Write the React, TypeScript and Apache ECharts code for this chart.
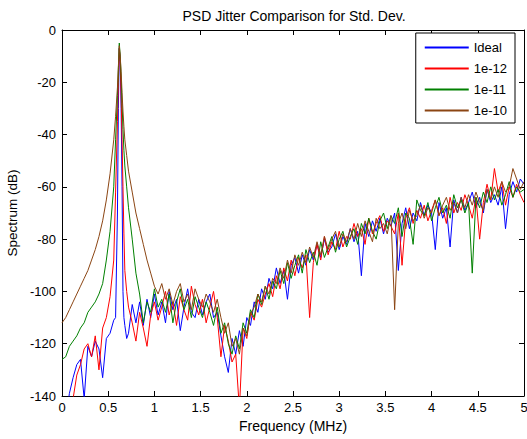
import React, { useEffect, useRef } from "react";
import * as echarts from "echarts";

// Frequency grid (MHz): coarse before the peak, fine around the peak, coarse after
const freqA = Array.from({ length: 15 }, (_, i) => +(i * 0.04).toFixed(2));
const freqPeak = [0.58, 0.6, 0.61, 0.62, 0.63, 0.64, 0.65, 0.66, 0.67, 0.68, 0.7];
const freqC = Array.from({ length: 108 }, (_, i) => +(0.72 + i * 0.04).toFixed(2));
const freq = [...freqA, ...freqPeak, ...freqC];

const seriesNames = ["Ideal", "1e-12", "1e-11", "1e-10"];
const seriesColors = ["#0000ff", "#ff0000", "#008000", "#8b4513"];

const ideal = [
  -152, -149, -139, -133, -128, -126, -141, -121, -125, -119, -122, -133, -118, -116, -111,
  -110, -70, -30, -7, -12, -30, -60, -100, -110, -113, -118,
  -116, -105, -112, -104, -113, -103, -110, -101, -109, -104,
  -112, -100, -107, -103, -115, -106, -99, -108, -110, -103,
  -109, -104, -101, -110, -108, -117, -125, -131, -118, -124,
  -115, -121, -110, -113, -104, -108, -99, -103, -95, -99,
  -91, -97, -92, -103, -90, -87, -93, -86, -90, -84,
  -88, -82, -87, -80, -85, -83, -78, -84, -79, -82,
  -76, -81, -77, -94, -74, -79, -73, -77, -72, -78,
  -72, -75, -70, -92, -74, -68, -76, -70, -73, -66,
  -71, -67, -70, -84, -66, -72, -68, -83, -65, -70,
  -64, -69, -66, -62, -68, -64, -70, -61, -66, -63,
  -67, -60, -76, -63, -58, -62, -57, -59,
];

const sd1e12 = [
  -152, -150, -146, -141, -132, -128, -122, -120, -125, -117, -130, -114, -110, -102, -88,
  -62, -35, -20, -7, -12, -25, -42, -60, -78, -92, -100,
  -106, -112, -119, -108, -114, -121, -109, -104, -111, -106,
  -100, -109, -104, -113, -102, -107, -111, -98, -105, -109,
  -103, -112, -106, -100, -110, -125, -113, -119, -127, -124,
  -145, -114, -118, -108, -111, -103, -106, -101, -97, -102,
  -94, -99, -91, -96, -88, -94, -87, -91, -86, -110,
  -89, -82, -88, -79, -86, -81, -84, -77, -83, -79,
  -80, -74, -79, -76, -82, -72, -78, -74, -71, -77,
  -73, -75, -78, -70, -90, -72, -68, -74, -69, -72,
  -67, -73, -69, -65, -71, -68, -74, -64, -70, -66,
  -69, -63, -67, -72, -64, -80, -66, -59, -65, -53,
  -62, -58, -67, -60, -64, -59, -63, -66,
];

const sd1e11 = [
  -126, -125, -121, -119, -117, -114, -112, -108, -106, -104, -101, -97, -88, -77, -60,
  -42, -25, -15, -5, -10, -18, -28, -38, -46, -52, -60,
  -68, -80, -93, -101, -112, -104, -108, -99, -106, -103,
  -108, -101, -112, -104, -99, -107, -103, -110, -102, -106,
  -110, -104, -108, -113, -106, -116, -112, -120, -124, -117,
  -122, -112, -116, -107, -110, -101, -105, -98, -103, -96,
  -99, -92, -97, -89, -95, -90, -86, -93, -84, -89,
  -85, -90, -81, -87, -83, -79, -85, -80, -77, -83,
  -79, -76, -82, -74, -78, -72, -77, -80, -73, -70,
  -76, -71, -74, -68, -79, -70, -72, -82, -65, -69,
  -71, -66, -73, -68, -64, -70, -67, -72, -63, -68,
  -65, -70, -66, -93, -64, -68, -62, -66, -60, -65,
  -61, -67, -63, -58, -64, -60, -62, -61,
];

const sd1e10 = [
  -112, -110, -107, -104, -101, -98, -95, -92, -88, -84, -79, -73, -65, -55, -42,
  -33, -22, -14, -6, -10, -16, -24, -31, -37, -42, -48,
  -54, -62, -70, -76, -82, -88, -93, -98, -101, -97,
  -103, -99, -105, -100, -97, -104, -101, -107, -99, -103,
  -106, -101, -104, -108, -103, -110, -116, -112, -121, -118,
  -124, -114, -117, -109, -106, -101, -104, -98, -101, -95,
  -97, -91, -95, -88, -93, -86, -90, -85, -89, -83,
  -87, -81, -86, -79, -84, -80, -77, -83, -78, -81,
  -76, -80, -74, -79, -73, -77, -81, -72, -76, -74,
  -78, -71, -107, -74, -70, -76, -69, -73, -71, -67,
  -72, -68, -70, -65, -71, -67, -64, -69, -66, -70,
  -64, -68, -63, -67, -62, -66, -69, -61, -65, -60,
  -64, -58, -62, -60, -53, -57, -61, -58,
];

const allSeries = [ideal, sd1e12, sd1e11, sd1e10];

const FONT = "Liberation Sans, Arial, sans-serif";

export default function App() {
  const ref = useRef<HTMLDivElement>(null);
  useEffect(() => {
    if (!ref.current) return;
    const chart = echarts.init(ref.current, undefined, { renderer: "svg" });
    const axisCommon = {
      type: "value" as const,
      axisLine: { show: true, onZero: false, lineStyle: { color: "#000", width: 1 } },
      axisTick: { show: true, inside: true, length: 5, lineStyle: { color: "#000" } },
      splitLine: { show: false },
    };
    chart.setOption({
      animation: false,
      backgroundColor: "#fff",
      textStyle: { fontFamily: FONT },
      title: {
        text: "PSD Jitter Comparison for Std. Dev.",
        left: 289,
        top: 4,
        textAlign: "center",
        textStyle: { fontFamily: FONT, fontSize: 14, fontWeight: "normal", color: "#000" },
      },
      grid: {
        left: 62,
        right: 3,
        top: 30,
        bottom: 43,
        containLabel: false,
        outerBoundsMode: "none",
      },
      legend: {
        orient: "vertical",
        right: 12,
        top: 33,
        data: seriesNames,
        icon: "rect",
        itemWidth: 44,
        itemHeight: 2,
        itemGap: 6,
        padding: [7, 8, 5, 9],
        borderColor: "#000",
        borderWidth: 1,
        backgroundColor: "#fff",
        textStyle: { fontFamily: FONT, fontSize: 13, color: "#000", lineHeight: 15 },
      },
      xAxis: [
        {
          ...axisCommon,
          position: "bottom",
          min: 0,
          max: 5,
          interval: 0.5,
          name: "Frequency (MHz)",
          nameLocation: "middle",
          nameGap: 21,
          nameTextStyle: { fontFamily: FONT, fontSize: 14, color: "#000" },
          axisLabel: { color: "#000", fontFamily: FONT, fontSize: 13, margin: 5 },
        },
        {
          ...axisCommon,
          position: "top",
          min: 0,
          max: 5,
          interval: 0.5,
          axisLabel: { show: false },
        },
      ],
      yAxis: [
        {
          ...axisCommon,
          position: "left",
          min: -140,
          max: 0,
          interval: 20,
          name: "Spectrum (dB)",
          nameLocation: "middle",
          nameGap: 40,
          nameTextStyle: { fontFamily: FONT, fontSize: 13.5, color: "#000" },
          axisLabel: { color: "#000", fontFamily: FONT, fontSize: 13, margin: 6 },
        },
        {
          ...axisCommon,
          position: "right",
          min: -140,
          max: 0,
          interval: 20,
          axisLabel: { show: false },
        },
      ],
      series: allSeries.map((vals, si) => ({
        name: seriesNames[si],
        type: "line",
        xAxisIndex: 0,
        yAxisIndex: 0,
        symbol: "none",
        showSymbol: false,
        clip: true,
        color: seriesColors[si],
        lineStyle: { color: seriesColors[si], width: 1 },
        data: freq.map((f, i) => [f, vals[i]]),
      })),
    });
    return () => chart.dispose();
  }, []);
  return (
    <div
      ref={ref}
      style={{ position: "fixed", left: 0, top: 0, width: 527, height: 439 }}
    />
  );
}
